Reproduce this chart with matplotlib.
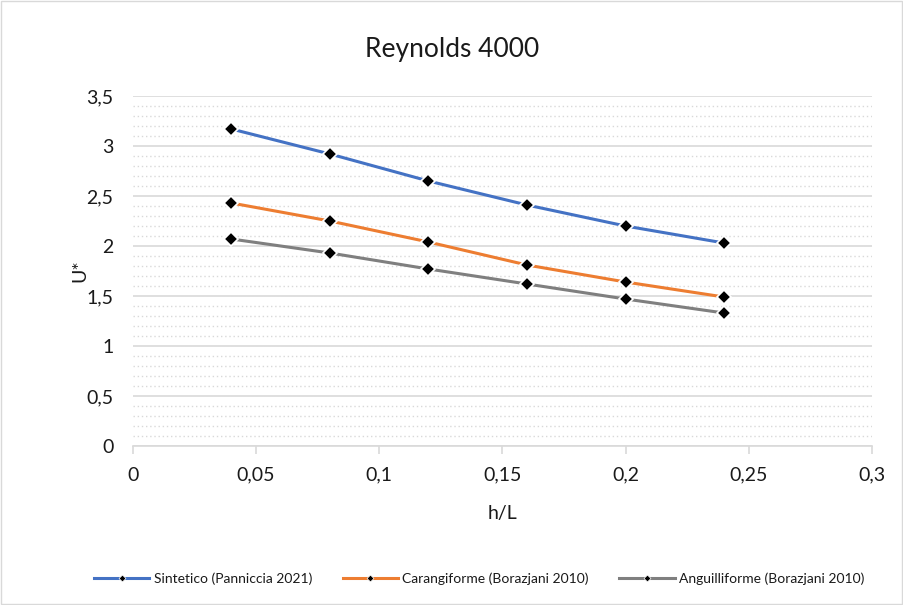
import matplotlib
matplotlib.use("Agg")
import matplotlib.pyplot as plt
from matplotlib.ticker import MultipleLocator, FuncFormatter
from matplotlib.patches import Rectangle

x = [0.04, 0.08, 0.12, 0.16, 0.20, 0.24]
sintetico = [3.17, 2.92, 2.65, 2.41, 2.20, 2.03]
carangiforme = [2.43, 2.25, 2.04, 1.81, 1.64, 1.49]
anguilliforme = [2.07, 1.93, 1.77, 1.62, 1.47, 1.33]
labels = ["Sintetico (Panniccia 2021)", "Carangiforme (Borazjani 2010)", "Anguilliforme (Borazjani 2010)"]
colors = ["#4472C4", "#ED7D31", "#7F7F7F"]

plt.rcParams['font.family'] = ['Lato', 'DejaVu Sans']

fig = plt.figure(figsize=(9.04, 6.05), dpi=100)
fig.patches.append(Rectangle((0.001, 0.001), 0.997, 0.997, transform=fig.transFigure,
                             fill=False, edgecolor="#d9d9d9", linewidth=1))
ax = fig.add_axes([0.147, 0.2628, 0.8175, 0.5785])

for ys, c, lab in zip([sintetico, carangiforme, anguilliforme], colors, labels):
    ax.plot(x, ys, color=c, linewidth=2.2, marker='D', markersize=7,
            markerfacecolor='black', markeredgecolor='white', markeredgewidth=1.2,
            label=lab, zorder=3)

ax.set_xlim(0, 0.3)
ax.set_ylim(0, 3.5)
ax.xaxis.set_major_locator(MultipleLocator(0.05))
ax.yaxis.set_major_locator(MultipleLocator(0.5))
ax.yaxis.set_minor_locator(MultipleLocator(0.1))

def fmt(v, pos):
    s = ('%.2f' % v).rstrip('0').rstrip('.')
    return s.replace('.', ',')
ax.xaxis.set_major_formatter(FuncFormatter(fmt))
ax.yaxis.set_major_formatter(FuncFormatter(fmt))

ax.grid(which='major', axis='y', color='#d9d9d9', linewidth=1.2)
ax.grid(which='minor', axis='y', color='#d9d9d9', linewidth=1.0, linestyle=(0, (1, 2)))
ax.set_axisbelow(True)
for s in ['top', 'right', 'left']:
    ax.spines[s].set_visible(False)
ax.spines['bottom'].set_color('#d9d9d9')
ax.spines['bottom'].set_linewidth(1.2)
ax.tick_params(axis='x', which='major', direction='out', length=6, color='#d9d9d9', width=1.2,
               labelsize=14, labelcolor='#1a1a1a', pad=9)
ax.tick_params(axis='y', which='both', length=0, labelsize=14, labelcolor='#1a1a1a', pad=14)

fig.text(0.5, 0.918, "Reynolds 4000", fontsize=19, color='#1a1a1a', ha='center', va='center')
ax.set_xlabel("h/L", fontsize=14, color='#1a1a1a', labelpad=15)
ax.set_ylabel("U*", fontsize=14, color='#1a1a1a')
ax.yaxis.set_label_coords(-0.06, 0.5)

leg = fig.legend(loc='center', bbox_to_anchor=(0.53, 0.043), ncol=3, frameon=False,
                 fontsize=10, labelcolor='#1a1a1a', handlelength=4.0, columnspacing=2.2,
                 handletextpad=0.3)
for h in leg.legend_handles:
    h.set_markersize(3.5)
    h.set_markeredgewidth(0.5)
    h.set_linewidth(2.2)

fig.savefig("out.png", dpi=100)
